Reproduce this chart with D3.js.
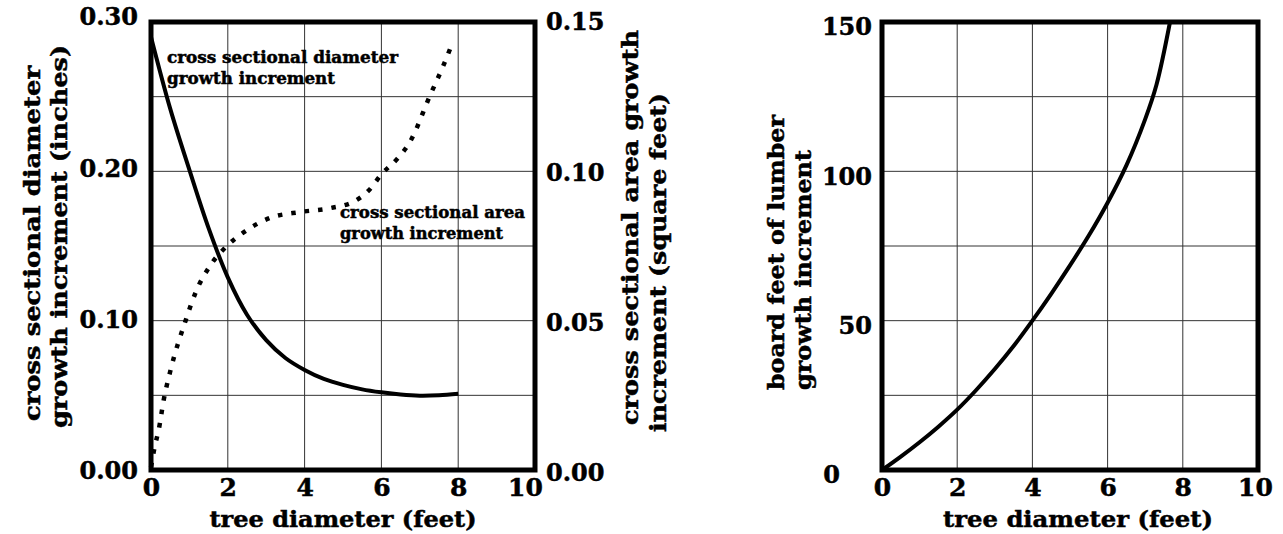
<!DOCTYPE html>
<html><head><meta charset="utf-8">
<script src="https://cdn.jsdelivr.net/npm/d3@7"></script>
<style>
html,body{margin:0;padding:0;background:#fff;}
text{font-family:"DejaVu Serif",serif;font-weight:bold;fill:#000;stroke:#000;stroke-width:0.5px;}
</style></head>
<body><svg id="c" width="1283" height="534"></svg>
<script>
// ---- data ----
const xTicks = [0, 2, 4, 6, 8, 10];
const leftTicks = [0, 0.10, 0.20, 0.30];
const rightTicks = [0, 0.05, 0.10, 0.15];
const boardTicks = [0, 50, 100, 150];

const diamX = [0, 0.5, 1, 1.5, 2, 2.5, 3, 3.5, 4, 4.5, 5, 5.5, 6, 6.5, 7, 7.5, 8];
const diamY = [0.290, 0.242, 0.201, 0.162, 0.129, 0.104, 0.087, 0.075, 0.067, 0.061, 0.057, 0.054, 0.052, 0.0505, 0.0497, 0.0500, 0.0510];

const areaX = [0, 0.1, 0.2, 0.33, 0.51, 0.9, 1.18, 1.55, 2.0, 2.46, 3.1, 3.9, 4.67, 5.3, 5.7, 6.0, 6.4, 6.75, 7.27, 7.6, 7.85];
const areaY = [0.001, 0.008, 0.0134, 0.0234, 0.0335, 0.050, 0.060, 0.0686, 0.0753, 0.080, 0.0844, 0.0864, 0.0877, 0.090, 0.094, 0.099, 0.104, 0.110, 0.1255, 0.135, 0.143];

const boardX = [0, 0.5, 1, 1.5, 2, 2.5, 3, 3.5, 4, 4.5, 5, 5.5, 6, 6.5, 7, 7.3, 7.66];
const boardY = [0, 4.5, 9.3, 14.5, 20.2, 26.7, 33.8, 41.5, 50, 59, 68.5, 78.5, 89.5, 102, 117.5, 129, 150];

// ---- layout ----
const svg = d3.select("#c");
const L = {x0: 151, x1: 535, y0: 470, y1: 22};
const R = {x0: 882, x1: 1258, y0: 470, y1: 22};

const xL = d3.scaleLinear().domain([0, 10]).range([L.x0, L.x1]);
const yL = d3.scaleLinear().domain([0, 0.30]).range([L.y0, L.y1]);
const yL2 = d3.scaleLinear().domain([0, 0.15]).range([L.y0, L.y1]);
const xR = d3.scaleLinear().domain([0, 10]).range([R.x0, R.x1]);
const yR = d3.scaleLinear().domain([0, 150]).range([R.y0, R.y1]);

function grid(xs, ys, P, xv, yv) {
  const g = svg.append("g").attr("stroke", "#333").attr("stroke-width", 1);
  g.selectAll(".v").data(xv).join("line")
    .attr("x1", d => xs(d)).attr("x2", d => xs(d)).attr("y1", P.y1).attr("y2", P.y0);
  g.selectAll(".h").data(yv).join("line")
    .attr("y1", d => ys(d)).attr("y2", d => ys(d)).attr("x1", P.x0).attr("x2", P.x1);
}
grid(xL, yL, L, [2, 4, 6, 8], [0.05, 0.10, 0.15, 0.20, 0.25]);
grid(xR, yR, R, [2, 4, 6, 8], [25, 50, 75, 100, 125]);

// curves
const lineDiam = d3.line().x(d => xL(d[0])).y(d => yL(d[1])).curve(d3.curveCatmullRom);
svg.append("path").datum(diamX.map((x, i) => [x, diamY[i]]))
  .attr("d", lineDiam).attr("fill", "none").attr("stroke", "#000").attr("stroke-width", 4);

const lineArea = d3.line().x(d => xL(d[0])).y(d => yL2(d[1])).curve(d3.curveMonotoneX);
svg.append("path").datum(areaX.map((x, i) => [x, areaY[i]]))
  .attr("d", lineArea).attr("fill", "none").attr("stroke", "#000").attr("stroke-width", 4.5)
  .attr("stroke-dasharray", "4.5 9");

const lineBoard = d3.line().x(d => xR(d[0])).y(d => yR(d[1])).curve(d3.curveCatmullRom);
svg.append("path").datum(boardX.map((x, i) => [x, boardY[i]]))
  .attr("d", lineBoard).attr("fill", "none").attr("stroke", "#000").attr("stroke-width", 4);

// frames
[L, R].forEach(P => {
  svg.append("rect").attr("x", P.x0).attr("y", P.y1).attr("width", P.x1 - P.x0).attr("height", P.y0 - P.y1)
    .attr("fill", "none").attr("stroke", "#000").attr("stroke-width", 5);
});

// axes
function styleAxis(g, size) {
  g.select(".domain").remove();
  g.selectAll(".tick line").remove();
  g.selectAll("text").attr("font-family", "DejaVu Serif").attr("font-weight", "bold").attr("font-size", size).attr("fill", "#000");
}
const axL = svg.append("g").attr("transform", `translate(${L.x0},0)`)
  .call(d3.axisLeft(yL).tickValues(leftTicks).tickFormat(d3.format(".2f")).tickSize(0).tickPadding(13));
styleAxis(axL, 24);
axL.selectAll("text").attr("dy", d => (0.32 * 24 + 1 - 20 * d) + "px");

const axL2 = svg.append("g").attr("transform", `translate(${L.x1},0)`)
  .call(d3.axisRight(yL2).tickValues(rightTicks).tickFormat(d3.format(".2f")).tickSize(0).tickPadding(11));
styleAxis(axL2, 24);
axL2.selectAll("text").attr("dy", d => (0.32 * 24 + 3 - 20 * d) + "px");

const axB1 = svg.append("g").attr("transform", `translate(0,${L.y0})`)
  .call(d3.axisBottom(xL).tickValues(xTicks).tickFormat(d3.format("d")).tickSize(0).tickPadding(8));
styleAxis(axB1, 25);
axB1.selectAll("text").attr("x", d => d === 10 ? -10 : 0);

const axR = svg.append("g").attr("transform", `translate(${R.x0},0)`)
  .call(d3.axisLeft(yR).tickValues(boardTicks).tickFormat(d3.format("d")).tickSize(0).tickPadding(10));
styleAxis(axR, 24);
axR.selectAll("text").attr("dy", d => (0.32 * 24 + 5) + "px").attr("x", d => d === 0 ? -42 : -10);

const axB2 = svg.append("g").attr("transform", `translate(0,${R.y0})`)
  .call(d3.axisBottom(xR).tickValues(xTicks).tickFormat(d3.format("d")).tickSize(0).tickPadding(8));
styleAxis(axB2, 25);
axB2.selectAll("text").attr("x", d => d === 10 ? -3 : 0);

// axis titles
function htext(x, y, s, size, len) {
  svg.append("text").attr("x", x).attr("y", y).attr("text-anchor", "middle").attr("font-size", size)
    .attr("textLength", len).attr("lengthAdjust", "spacingAndGlyphs").text(s);
}
htext(343, 527, "tree diameter (feet)", 23, 267);
htext(1078, 527, "tree diameter (feet)", 23, 270);

function vtext(x, y, s, size, len) {
  svg.append("text").attr("transform", `translate(${x},${y}) rotate(-90)`).attr("text-anchor", "start")
    .attr("font-size", size).attr("textLength", len).attr("lengthAdjust", "spacingAndGlyphs").text(s);
}
vtext(40, 421, "cross sectional diameter", 23, 355);
vtext(67, 428, "growth increment (inches)", 23, 383);
vtext(638, 425, "cross sectional area growth", 23, 395);
vtext(666, 432, "increment (square feet)", 23, 339);
vtext(784, 390, "board feet of lumber", 23, 275);
vtext(811, 390, "growth increment", 23, 240);

// annotations
function note(x, y, lines, lens) {
  lines.forEach((s, i) => svg.append("text").attr("x", x).attr("y", y + i * 21).attr("font-size", 16)
    .attr("textLength", lens[i]).attr("lengthAdjust", "spacingAndGlyphs").attr("stroke-width", 0.4).text(s));
}
note(167, 63, ["cross sectional diameter", "growth increment"], [231, 168]);
note(340, 218, ["cross sectional area", "growth increment"], [185, 163]);
</script></body></html>
